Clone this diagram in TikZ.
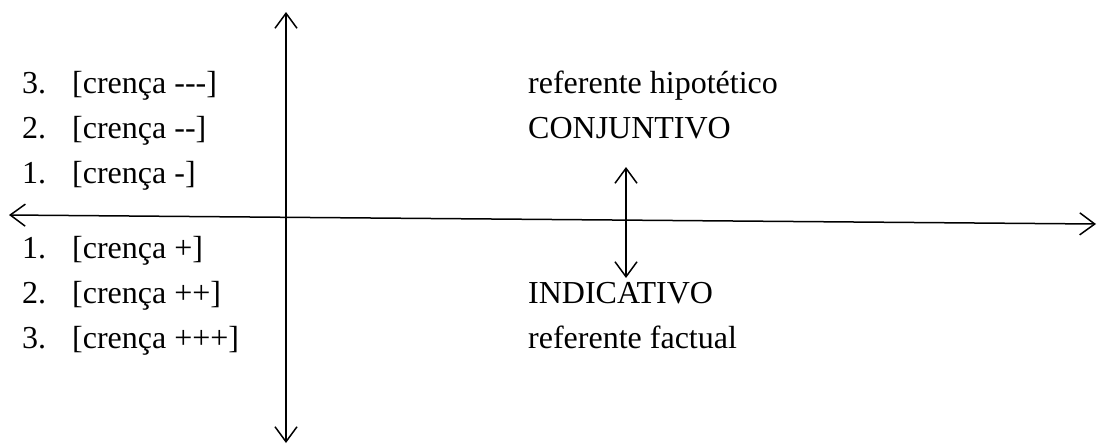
\documentclass[tikz,border=0pt]{standalone}
\usepackage{fontspec}
\setmainfont{Liberation Serif}[Ligatures=TeXOff]
\usetikzlibrary{arrows.meta}
\begin{document}
\begin{tikzpicture}[x=1pt,y=-1pt,
  lbl/.style={anchor=base west,inner sep=0pt,font=\fontsize{32}{36}\selectfont},
  axis/.style={line width=1.5pt,{Straight Barb[length=15pt,width=22pt,line width=1.5pt]}-{Straight Barb[length=15pt,width=22pt,line width=1.5pt]}}]
\useasboundingbox (0,0) rectangle (1097,445);
% left column
\node[lbl] (n3a) at (22,93) {3.};
\node[lbl] (t3a) at (72,93) {[crença ---]};
\node[lbl] (n2a) at (22,138) {2.};
\node[lbl] (t2a) at (72,138) {[crença --]};
\node[lbl] (n1a) at (22,183) {1.};
\node[lbl] (t1a) at (72,183) {[crença -]};
\node[lbl] (n1b) at (22,258) {1.};
\node[lbl] (t1b) at (72,258) {[crença +]};
\node[lbl] (n2b) at (22,303) {2.};
\node[lbl] (t2b) at (72,303) {[crença ++]};
\node[lbl] (n3b) at (22,348) {3.};
\node[lbl] (t3b) at (72,348) {[crença +++]};
% right column
\node[lbl] (rh) at (528,93) {referente hipotético};
\node[lbl] (conj) at (528,138) {CONJUNTIVO};
\node[lbl] (ind) at (528,303) {INDICATIVO};
\node[lbl] (rf) at (528,348) {referente factual};
% axes
\coordinate (vtop) at (286,12);
\coordinate (vbot) at (286,443);
\coordinate (hl) at (9,215);
\coordinate (hr) at (1096,224);
\coordinate (stop) at (626,167);
\coordinate (sbot) at (626,278);
\draw[axis] (vbot) -- (vtop);
\draw[axis] (hl) -- (hr);
\draw[axis] (stop) -- (sbot);
\end{tikzpicture}
\end{document}
